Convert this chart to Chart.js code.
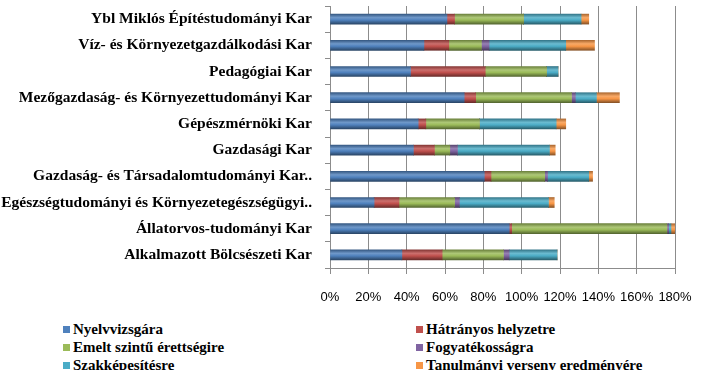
<!DOCTYPE html>
<html>
<head>
<meta charset="utf-8">
<script src="https://cdn.jsdelivr.net/npm/chart.js@4/dist/chart.umd.min.js"></script>
<style>
  html, body { margin: 0; padding: 0; background: #fff; }
  #wrap { position: relative; width: 721px; height: 370px; overflow: hidden; }
  #chart { position: absolute; left: 0; top: 0; }
  #legend { position: absolute; left: 0; top: 320px; width: 721px; height: 50px; }
  .item {
    position: absolute; height: 18px; line-height: 18px; white-space: nowrap;
    font-family: "Liberation Serif", serif; font-weight: bold; font-size: 15px; color: #000;
  }
  .box { display: inline-block; width: 7px; height: 7px; margin-right: 3px; vertical-align: 1px; }
</style>
</head>
<body>
<div id="wrap">
  <canvas id="chart" width="721" height="312"></canvas>
  <div id="legend"></div>
</div>
<script>
// Kategóriák (karok), felülről lefelé
const categories = [
  'Ybl Miklós Építéstudományi Kar',
  'Víz- és Környezetgazdálkodási Kar',
  'Pedagógiai Kar',
  'Mezőgazdaság- és Környezettudományi Kar',
  'Gépészmérnöki Kar',
  'Gazdasági Kar',
  'Gazdaság- és Társadalomtudományi Kar..',
  'Egészségtudományi és Környezetegészségügyi..',
  'Állatorvos-tudományi Kar',
  'Alkalmazott Bölcsészeti Kar'
];

// Sorozatok értékei (%)
const nyelvvizsga   = [61, 49, 42, 70, 46, 43.5, 80.5, 23, 93.5, 37.5];
const hatranyos     = [4, 13, 39, 6, 4, 11, 3.5, 13, 1.3, 21];
const emeltSzint    = [36, 17, 32, 50, 28, 8, 28, 29, 81, 32];
const fogyatekossag = [0, 4, 0, 2, 0, 4, 1.5, 2.5, 0.9, 3];
const szakkepesites = [30, 40, 6, 11, 40, 48, 21.5, 46.5, 1.2, 25];
const tanulmanyi    = [4, 15, 0, 12, 5, 3, 2, 3, 2, 0];

const seriesNames = [
  'Nyelvvizsgára',
  'Hátrányos helyzetre',
  'Emelt szintű érettségire',
  'Fogyatékosságra',
  'Szakképesítésre',
  'Tanulmányi verseny eredményére'
];
const seriesValues = [nyelvvizsga, hatranyos, emeltSzint, fogyatekossag, szakkepesites, tanulmanyi];
const seriesColors = ['#4F81BD', '#C0504D', '#9BBB59', '#8064A2', '#4BACC6', '#F79646'];

const xTickStep = 20;
const xMax = 180;

// Szín világosítása / sötétítése
function shade(hex, f) {
  const n = parseInt(hex.slice(1), 16);
  let r = (n >> 16) & 255, g = (n >> 8) & 255, b = n & 255;
  if (f >= 1) {
    r = Math.round(r + (255 - r) * (f - 1));
    g = Math.round(g + (255 - g) * (f - 1));
    b = Math.round(b + (255 - b) * (f - 1));
  } else {
    r = Math.round(r * f); g = Math.round(g * f); b = Math.round(b * f);
  }
  return `rgb(${r},${g},${b})`;
}

// Henger hatás: függőleges színátmenet minden oszlopra
function cylinder(color) {
  return (context) => {
    const chart = context.chart;
    if (!chart.chartArea || !chart.scales.y) return color;
    const c = chart.scales.y.getPixelForValue(context.dataIndex);
    const g = chart.ctx.createLinearGradient(0, c - 5, 0, c + 5);
    g.addColorStop(0, shade(color, 0.7));
    g.addColorStop(0.35, shade(color, 1.18));
    g.addColorStop(0.6, color);
    g.addColorStop(1, shade(color, 0.55));
    return g;
  };
}

const datasets = seriesNames.map((name, i) => ({
  label: name,
  data: seriesValues[i],
  backgroundColor: cylinder(seriesColors[i]),
  borderWidth: 0,
  barThickness: 10
}));

const ctx = document.getElementById('chart').getContext('2d');

new Chart(ctx, {
  type: 'bar',
  data: { labels: categories, datasets },
  options: {
    indexAxis: 'y',
    responsive: false,
    animation: false,
    layout: { padding: { top: 6, right: 46, left: 0, bottom: 0 } },
    plugins: {
      legend: { display: false },
      tooltip: { enabled: false }
    },
    scales: {
      x: {
        stacked: true,
        min: 0,
        max: xMax,
        afterFit: (scale) => { scale.height = 44; },
        ticks: {
          stepSize: xTickStep,
          padding: 16,
          maxRotation: 0,
          minRotation: 0,
          autoSkip: false,
          color: '#000',
          font: { family: '"Liberation Sans", sans-serif', size: 13 },
          callback: (v) => v + '%'
        },
        grid: { color: '#8c8c8c', tickLength: 6 },
        border: { color: '#8c8c8c' }
      },
      y: {
        stacked: true,
        afterFit: (scale) => {
          scale.width = 330;
          scale.paddingTop = 0;
          scale.paddingBottom = 0;
        },
        ticks: {
          padding: 13,
          autoSkip: false,
          color: '#000',
          font: { family: '"Liberation Serif", serif', size: 15.5, weight: 'bold' }
        },
        grid: { drawOnChartArea: false, tickLength: 5, color: '#8c8c8c' },
        border: { color: '#8c8c8c' }
      }
    }
  }
});

// Jelmagyarázat két oszlopban
const legendEl = document.getElementById('legend');
seriesNames.forEach((name, i) => {
  const item = document.createElement('div');
  item.className = 'item';
  item.style.left = (i % 2 === 0 ? 63 : 416) + 'px';
  item.style.top = (Math.floor(i / 2) * 18) + 'px';
  item.innerHTML = `<span class="box" style="background:${seriesColors[i]}"></span>${name}`;
  legendEl.appendChild(item);
});
</script>
</body>
</html>
